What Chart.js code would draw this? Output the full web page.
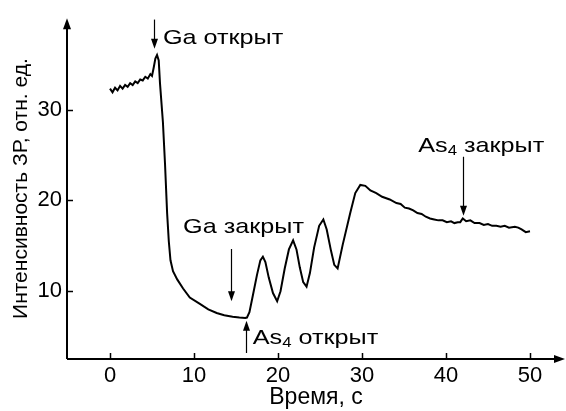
<!DOCTYPE html>
<html>
<head>
<meta charset="utf-8">
<script src="https://cdn.jsdelivr.net/npm/chart.js@4/dist/chart.umd.min.js"></script>
<style>
  html, body { margin: 0; padding: 0; background: #fff; }
  #wrap { width: 566px; height: 411px; }
</style>
</head>
<body>
<div id="wrap"><canvas id="c" width="566" height="411"></canvas></div>
<script>
// Time, s
const timeS = [
  0, 0.3, 0.6, 0.9, 1.2, 1.5, 1.8, 2.1, 2.4, 2.7, 3.0, 3.3, 3.6, 3.9, 4.2, 4.5, 4.8, 5.0, 5.2, 5.4, 5.6,
  5.8, 5.95, 6.3, 6.55, 6.8, 7.0, 7.2, 7.5, 8.0, 8.7, 9.5, 10.7, 11.7, 12.7, 13.6, 14.6, 15.4, 16.1,
  16.3, 16.6, 17.0, 17.5, 17.9, 18.2, 18.5, 18.9, 19.4, 19.9, 20.3, 20.8, 21.3, 21.8, 22.2, 22.6, 23.0, 23.4,
  23.8, 24.3, 24.9, 25.4, 25.8, 26.3, 26.7, 27.1, 27.7, 28.6, 29.2, 29.8, 30.4, 31.0, 31.7, 32.4, 33.3, 34.1,
  34.6, 35.1, 35.6, 36.1, 36.6, 37.1, 37.6, 38.1, 38.6, 39.1, 39.6, 40.1, 40.6, 41.0, 41.4, 41.7, 42.0,
  42.4, 42.9, 43.4, 44.0, 44.5, 45.0, 45.5, 46.0, 46.5, 47.0, 47.5, 48.2, 48.6, 49.0, 49.5, 50.0
];
// RHEED intensity, arb. units
const intensity = [
  32.3, 31.9, 32.4, 32.1, 32.6, 32.3, 32.7, 32.5, 32.9, 32.7, 33.1, 32.9, 33.3, 33.2, 33.6, 33.4, 33.9, 33.7, 34.6, 35.6, 36.0,
  35.4, 32.9, 28.6, 24.0, 18.6, 15.5, 13.4, 12.2, 11.3, 10.3, 9.3, 8.6, 8.0, 7.6, 7.35, 7.2, 7.1, 7.05,
  7.1, 7.7, 9.5, 11.8, 13.4, 13.8, 13.2, 11.5, 9.8, 8.9, 10.0, 12.5, 14.6, 15.6, 14.6, 12.6, 11.0, 10.5,
  12.0, 14.8, 17.2, 17.9, 16.8, 14.5, 12.9, 12.5, 15.1, 18.6, 20.8, 21.7, 21.6, 21.1, 20.8, 20.4, 20.1, 19.7,
  19.6, 19.2, 19.1, 18.9, 18.6, 18.5, 18.2, 18.0, 17.9, 17.8, 17.8, 17.6, 17.7, 17.5, 17.6, 17.6, 18.0,
  17.7, 17.8, 17.5, 17.5, 17.3, 17.4, 17.2, 17.2, 17.1, 17.2, 17.0, 17.1, 17.0, 16.8, 16.5, 16.6, 16.6
];
const xTicks = [0, 10, 20, 30, 40, 50];
const yTicks = [10, 20, 30];

// Event markers: arrow column (s), arrow start/end (intensity), label text
const eventLabels = ['Ga открыт', 'Ga закрыт', 'As|4| открыт', 'As|4| закрыт'];
const eventTimes = [5.24, 14.4, 16.2, 42.0];
const arrowFrom = [39.9, 14.65, 3.2, 24.8];
const arrowTo = [36.7, 8.9, 6.76, 18.3];
const labelTimes = [6.3, 8.7, 17.0, 36.7];
const labelLevels = [37.8, 17.0, 4.8, 26.0];

const FONT = '"Liberation Sans", Arial, sans-serif';

const axesPlugin = {
  id: 'arrowAxes',
  afterDraw(chart) {
    const { ctx, chartArea: a, scales: { x, y } } = chart;
    ctx.save();
    ctx.strokeStyle = '#000';
    ctx.fillStyle = '#000';
    ctx.lineWidth = 2;
    // axis lines
    ctx.beginPath();
    ctx.moveTo(a.left, a.bottom);
    ctx.lineTo(a.right - 6, a.bottom);
    ctx.moveTo(a.left, a.bottom);
    ctx.lineTo(a.left, a.top + 6);
    ctx.stroke();
    // arrowheads
    ctx.beginPath();
    ctx.moveTo(a.right, a.bottom);
    ctx.lineTo(a.right - 11, a.bottom - 4);
    ctx.lineTo(a.right - 11, a.bottom + 4);
    ctx.closePath();
    ctx.fill();
    ctx.beginPath();
    ctx.moveTo(a.left, a.top);
    ctx.lineTo(a.left - 4, a.top + 11);
    ctx.lineTo(a.left + 4, a.top + 11);
    ctx.closePath();
    ctx.fill();
    // inward tick marks
    ctx.lineWidth = 1.5;
    ctx.beginPath();
    xTicks.forEach(v => {
      const px = Math.round(x.getPixelForValue(v)) + 0.5;
      ctx.moveTo(px, a.bottom);
      ctx.lineTo(px, a.bottom - 6);
    });
    yTicks.forEach(v => {
      const py = Math.round(y.getPixelForValue(v)) + 0.5;
      ctx.moveTo(a.left, py);
      ctx.lineTo(a.left + 6, py);
    });
    ctx.stroke();

    // event arrows and labels
    eventLabels.forEach((txt, i) => {
      const ax = Math.round(x.getPixelForValue(eventTimes[i])) + 0.5;
      const y0 = y.getPixelForValue(arrowFrom[i]);
      const y1 = y.getPixelForValue(arrowTo[i]);
      const dir = y1 > y0 ? 1 : -1;
      ctx.lineWidth = 1.2;
      ctx.beginPath();
      ctx.moveTo(ax, y0);
      ctx.lineTo(ax, y1 - dir * 6);
      ctx.stroke();
      ctx.beginPath();
      ctx.moveTo(ax, y1);
      ctx.lineTo(ax - 3.5, y1 - dir * 10);
      ctx.lineTo(ax + 3.5, y1 - dir * 10);
      ctx.closePath();
      ctx.fill();

      // labels are set slightly wide
      let tx = x.getPixelForValue(labelTimes[i]);
      const ty = y.getPixelForValue(labelLevels[i]);
      const sx = 1.2;
      ctx.textBaseline = 'middle';
      ctx.textAlign = 'left';
      txt.split('|').forEach((part, k) => {
        const sub = k === 1;
        ctx.font = (sub ? '14px ' : '21px ') + FONT;
        ctx.save();
        ctx.translate(tx, ty + (sub ? 5 : 0));
        ctx.scale(sx, 1);
        ctx.fillText(part, 0, 0);
        ctx.restore();
        tx += ctx.measureText(part).width * sx;
      });
    });
    ctx.restore();
  }
};

const points = timeS.map((t, i) => ({ x: t, y: intensity[i] }));

new Chart(document.getElementById('c'), {
  type: 'line',
  data: {
    datasets: [{
      data: points,
      borderColor: '#000',
      borderWidth: 2,
      pointRadius: 0,
      tension: 0,
      fill: false
    }]
  },
  options: {
    responsive: false,
    animation: false,
    events: [],
    layout: { padding: { top: 12, right: 1, left: 0, bottom: 0 } },
    plugins: { legend: { display: false }, tooltip: { enabled: false } },
    scales: {
      x: {
        type: 'linear',
        min: -5.12,
        max: 54.17,
        afterBuildTicks: s => { s.ticks = xTicks.map(v => ({ value: v })); },
        afterFit: s => { s.height = 52; },
        grid: { display: false, drawTicks: false },
        border: { display: false },
        ticks: { color: '#000', padding: 4, font: { family: FONT, size: 22 } },
        title: {
          display: true, text: 'Время, с', color: '#000',
          padding: { top: 0, bottom: 0 }, font: { family: FONT, size: 23 }
        }
      },
      y: {
        type: 'linear',
        min: 2.54,
        max: 40.05,
        afterBuildTicks: s => { s.ticks = yTicks.map(v => ({ value: v })); },
        afterFit: s => { s.width = 67; },
        grid: { display: false, drawTicks: false },
        border: { display: false },
        ticks: { color: '#000', padding: 5, font: { family: FONT, size: 22 } },
        title: {
          display: true, text: 'Интенсивность ЗР, отн. ед.', color: '#000',
          padding: { top: 9, bottom: 0 }, font: { family: FONT, size: 21 }
        }
      }
    }
  },
  plugins: [axesPlugin]
});
</script>
</body>
</html>
